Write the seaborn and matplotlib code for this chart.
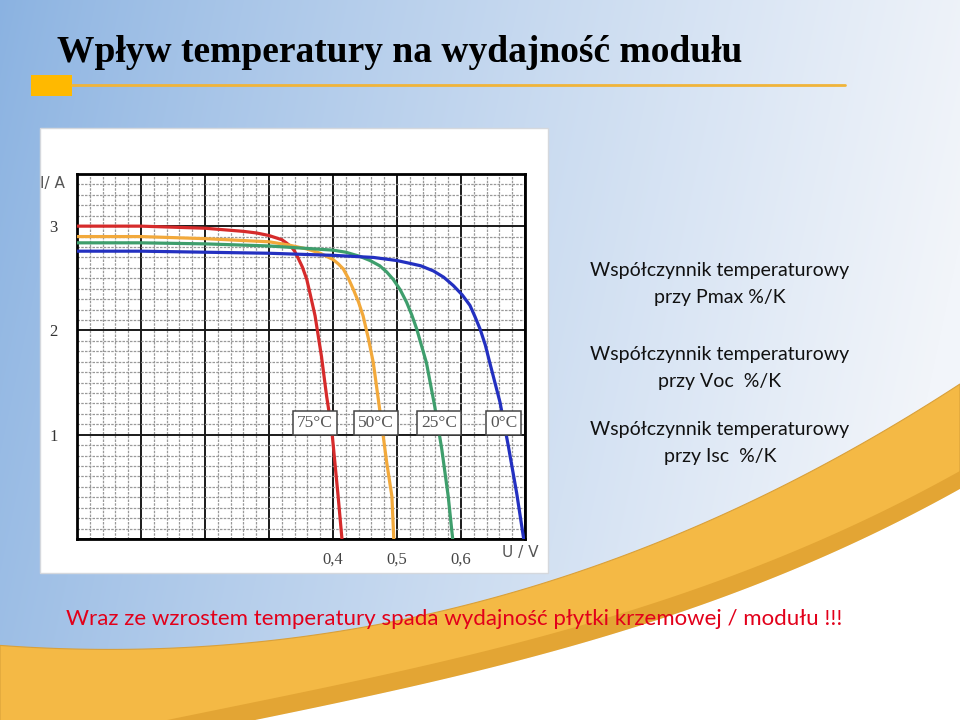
import numpy as np
import pandas as pd
import matplotlib
matplotlib.use("Agg")
import matplotlib.pyplot as plt
import seaborn as sns
from matplotlib.patches import Rectangle, Polygon
from matplotlib.ticker import MultipleLocator, FuncFormatter

# ---------------- data ----------------
temps = ["75°C", "50°C", "25°C", "0°C"]

v_75 = [0, 0.10, 0.20, 0.26, 0.28, 0.30, 0.31, 0.32, 0.327, 0.335, 0.340, 0.345, 0.352, 0.359,
        0.365, 0.372, 0.382, 0.390, 0.398, 0.403, 0.408, 0.414]
i_75 = [3.00, 3.00, 2.98, 2.95, 2.935, 2.91, 2.89, 2.87, 2.84, 2.80, 2.76, 2.70, 2.61, 2.49,
        2.33, 2.14, 1.75, 1.37, 1.05, 0.73, 0.41, 0.0]

v_50 = [0, 0.10, 0.20, 0.30, 0.33, 0.36, 0.38, 0.40, 0.408, 0.416, 0.424, 0.432, 0.44, 0.447,
        0.455, 0.463, 0.473, 0.484, 0.492, 0.495]
i_50 = [2.90, 2.90, 2.88, 2.85, 2.82, 2.78, 2.74, 2.68, 2.64, 2.59, 2.50, 2.39, 2.27, 2.14,
        1.93, 1.69, 1.24, 0.73, 0.41, 0.0]

v_25 = [0, 0.10, 0.20, 0.30, 0.35, 0.40, 0.42, 0.442, 0.458, 0.473, 0.484, 0.494, 0.505, 0.515,
        0.523, 0.531, 0.538, 0.546, 0.559, 0.570, 0.580, 0.587]
i_25 = [2.84, 2.84, 2.83, 2.81, 2.79, 2.77, 2.75, 2.71, 2.67, 2.62, 2.56, 2.49, 2.39, 2.27,
        2.15, 2.01, 1.86, 1.69, 1.27, 0.86, 0.41, 0.0]

v_0 = [0, 0.10, 0.20, 0.30, 0.40, 0.463, 0.50, 0.515, 0.537, 0.557, 0.573, 0.588, 0.602, 0.614,
       0.622, 0.630, 0.638, 0.645, 0.653, 0.661, 0.674, 0.687, 0.698]
i_0 = [2.76, 2.76, 2.75, 2.74, 2.72, 2.70, 2.67, 2.65, 2.62, 2.57, 2.51, 2.43, 2.34, 2.24,
       2.13, 2.01, 1.86, 1.69, 1.50, 1.31, 0.89, 0.44, 0.0]

x_tick_vals = [0.4, 0.5, 0.6]
x_tick_text = ["0,4", "0,5", "0,6"]
y_tick_vals = [1, 2, 3]
y_tick_text = ["1", "2", "3"]

# label anchor points for the temperature boxes (V, I)
label_v = [0.372, 0.467, 0.566, 0.667]
label_i = [1.115, 1.115, 1.115, 1.115]

title = "Wpływ temperatury na wydajność modułu"
side_texts = ["Współczynnik temperaturowy\nprzy Pmax %/K",
              "Współczynnik temperaturowy\nprzy Voc  %/K",
              "Współczynnik temperaturowy\nprzy Isc  %/K"]
bottom_text = "Wraz ze wzrostem temperatury spada wydajność płytki krzemowej / modułu !!!"

# ---------------- build table ----------------
frames = []
for t, v, i in zip(temps, [v_75, v_50, v_25, v_0], [i_75, i_50, i_25, i_0]):
    frames.append(pd.DataFrame({"U": v, "I": i, "T": t}))
df = pd.concat(frames, ignore_index=True)

palette = {"75°C": "#D62B2B", "50°C": "#F2A93B", "25°C": "#3E9E6C", "0°C": "#2330C0"}

sns.set_theme(style="white")
plt.rcParams["font.family"] = ["DejaVu Sans"]

fig = plt.figure(figsize=(9.6, 7.2), dpi=100)

# ---------------- slide background ----------------
bg = fig.add_axes([0, 0, 1, 1])
bg.set_xlim(0, 960)
bg.set_ylim(720, 0)
bg.axis("off")

H, W = 720, 960
yy, xx = np.mgrid[0:H, 0:W]
t = np.clip(xx / W * 0.95 + yy / H * 0.15, 0, 1) ** 0.85
c0 = np.array([138, 178, 225]) / 255
c1 = np.array([242, 245, 250]) / 255
img = c0[None, None, :] * (1 - t[..., None]) + c1[None, None, :] * t[..., None]
bg.imshow(img, extent=[0, 960, 720, 0], aspect="auto", zorder=0)

# swoosh band
up_x = np.array([0, 150, 273, 400, 450, 540, 600, 700, 800, 900, 960])
up_y = np.array([648, 645, 637, 620, 612, 590, 568, 520, 472, 420, 388])
lo_x = np.array([0, 120, 245, 490, 600, 700, 800, 900, 960])
lo_y = np.array([775, 748, 719, 673, 637, 603, 567, 520, 490])
xs = np.linspace(0, 960, 300)
pu = np.polyfit(up_x, up_y, 3)
pl = np.polyfit(lo_x, lo_y, 3)
yu = np.polyval(pu, xs)
yl = np.polyval(pl, xs)
band = np.vstack([np.column_stack([xs, yu]), np.column_stack([xs[::-1], yl[::-1]])])
bg.add_patch(Polygon(band, closed=True, fc="#F4B945", ec="#D9A03A", lw=0.8, zorder=1))
dark = np.vstack([np.column_stack([xs, yl - 18]), np.column_stack([xs[::-1], yl[::-1]])])
bg.add_patch(Polygon(dark, closed=True, fc="#E3A534", ec="none", zorder=1.1))
white = np.vstack([np.column_stack([xs, yl]), [[960, 800], [0, 800]]])
bg.add_patch(Polygon(white, closed=True, fc="white", ec="none", zorder=1.2))

# title decoration
bg.add_patch(Rectangle((31, 75), 41, 21, fc="#FFB900", ec="none", zorder=2))
bg.plot([72, 845], [85, 85], color="#F0B43A", lw=2, zorder=2)

# chart picture frame
bg.add_patch(Rectangle((40, 128), 508, 445, fc="white", ec="#D5D8DD", lw=1, zorder=2))

fig.text(57 / 960, 1 - 53 / 720, title, fontfamily="Liberation Serif", fontweight="bold",
         fontsize=27, color="black", ha="left", va="center")

side_y = [284, 368, 443]
for s, y in zip(side_texts, side_y):
    fig.text(720 / 960, 1 - y / 720, s, fontfamily="Lato", fontsize=14, color="#111111",
             ha="center", va="center", linespacing=1.65)

fig.text(66 / 960, 1 - 619 / 720, bottom_text, fontfamily="Lato", fontsize=16,
         color="#E2001A", ha="left", va="center")

# ---------------- chart ----------------
ax = fig.add_axes([77 / 960, 1 - 539 / 720, 448 / 960, 365 / 720])
ax.set_facecolor("white")
sns.lineplot(data=df, x="U", y="I", hue="T", hue_order=temps, palette=palette,
             sort=False, estimator=None, units="T", linewidth=2.3, legend=False, ax=ax,
             zorder=3)
ax.set_xlim(0, 0.7)
ax.set_ylim(0, 3.5)
ax.xaxis.set_major_locator(MultipleLocator(0.1))
ax.xaxis.set_minor_locator(MultipleLocator(0.02))
ax.yaxis.set_major_locator(MultipleLocator(1))
ax.yaxis.set_minor_locator(MultipleLocator(0.1))
ax.grid(which="minor", color="#999999", lw=0.9, ls=(0, (2, 1)))
ax.grid(which="major", color="#1a1a1a", lw=1.4, ls="-")
ax.set_axisbelow(True)

xmap = {round(v, 2): s for v, s in zip(x_tick_vals, x_tick_text)}
ymap = {round(v, 2): s for v, s in zip(y_tick_vals, y_tick_text)}
ax.xaxis.set_major_formatter(FuncFormatter(lambda v, p: xmap.get(round(v, 2), "")))
ax.yaxis.set_major_formatter(FuncFormatter(lambda v, p: ymap.get(round(v, 2), "")))
ax.tick_params(which="both", length=0)
ax.tick_params(axis="x", pad=9, labelsize=12, labelcolor="#444444")
ax.tick_params(axis="y", pad=14, labelsize=12, labelcolor="#333333")
for lab in ax.get_xticklabels() + ax.get_yticklabels():
    lab.set_fontfamily("Liberation Serif")
ax.set_xlabel("")
ax.set_ylabel("")
for sp in ax.spines.values():
    sp.set_visible(True)
    sp.set_color("black")
    sp.set_linewidth(2)

ax.text(-0.054, 0.975, "I/ A", transform=ax.transAxes, ha="center", va="center",
        fontsize=11, color="#555555")
ax.text(0.989, -0.038, "U / V", transform=ax.transAxes, ha="center", va="center",
        fontsize=11, color="#555555")

for t_, lv, li in zip(temps, label_v, label_i):
    ax.text(lv, li, t_, ha="center", va="center", fontsize=12.5, color="#555555",
            fontfamily="Liberation Serif", zorder=5,
            bbox=dict(boxstyle="square,pad=0.22", fc="white", ec="#444444", lw=1.1))

fig.savefig("out.png", dpi=100)
